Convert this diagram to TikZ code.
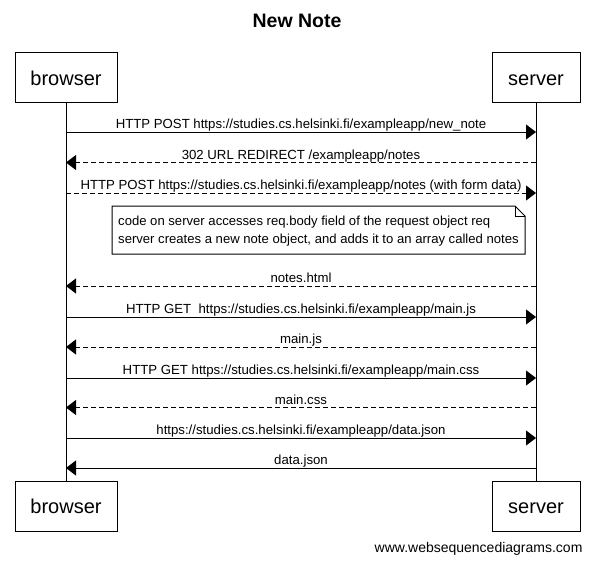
\documentclass[tikz,border=0pt]{standalone}
\usepackage{fontspec}
\setmainfont{Liberation Sans}
\usetikzlibrary{arrows.meta}
\tikzset{
  actor/.style={draw, line width=1pt, minimum height=50pt, inner sep=0pt, text height=15pt, text depth=0pt, font=\fontsize{20}{24}\selectfont},
  msg/.style={line width=1pt, -{Triangle[length=10pt,width=15pt]}},
  reply/.style={msg, dash pattern=on 5pt off 3pt},
  lbl/.style={font=\fontsize{13.2}{15}\selectfont, inner sep=0pt, anchor=base},
  life/.style={line width=1pt}
}
\begin{document}
\begin{tikzpicture}[x=1pt,y=-1pt]
\useasboundingbox (0,0) rectangle (594,565);
\fill[white] (0,0) rectangle (594,565);
\node[font=\bfseries\fontsize{19.5}{22}\selectfont] (title) at (297,21) {New Note};
% actors
\node[actor, minimum width=102pt] (bt) at (66,77.5) {browser};
\node[actor, minimum width=88pt] (st) at (536,77.5) {server};
\node[actor, minimum width=102pt] (bb) at (66,506) {browser};
\node[actor, minimum width=88pt] (sb) at (536,506) {server};
\draw[life] (bt.south) -- (bb.north);
\draw[life] (st.south) -- (sb.north);
% message end points
\foreach \i/\y in {1/132,2/162.5,3/193,4/286,5/317,6/347,7/378,8/407.5,9/438,10/468}{
  \coordinate (b\i) at (66,\y);
  \coordinate (s\i) at (536,\y);
}
\draw[msg] (b1) -- (s1) node[lbl, pos=0.5, yshift=3.5pt] {HTTP POST https://studies.cs.helsinki.fi/exampleapp/new\_note};
\draw[reply] (s2) -- (b2) node[lbl, pos=0.5, yshift=3.5pt] {302 URL REDIRECT /exampleapp/notes};
\draw[reply] (b3) -- (s3) node[lbl, pos=0.5, yshift=3.5pt] {HTTP POST https://studies.cs.helsinki.fi/exampleapp/notes (with form data)};
% note
\coordinate (nw) at (112,206);
\coordinate (fold) at (515,206);
\coordinate (foldb) at (525,216);
\coordinate (se) at (525,254);
\draw[line width=1pt, fill=white] (nw) -- (fold) -- (foldb) -- (se) -- (nw |- se) -- cycle;
\draw[line width=1pt] (fold) -- (fold |- foldb) -- (foldb);
\node[font=\fontsize{13.1}{18}\selectfont, inner sep=0pt, align=left, anchor=west] (note) at (118,231) {code on server accesses req.body field of the request object req\\server creates a new note object, and adds it to an array called notes};
\draw[reply] (s4) -- (b4) node[lbl, pos=0.5, yshift=3.5pt] {notes.html};
\draw[msg] (b5) -- (s5) node[lbl, pos=0.5, yshift=3.5pt] {HTTP GET\ \ https://studies.cs.helsinki.fi/exampleapp/main.js};
\draw[reply] (s6) -- (b6) node[lbl, pos=0.5, yshift=3.5pt] {main.js};
\draw[msg] (b7) -- (s7) node[lbl, pos=0.5, yshift=3.5pt] {HTTP GET https://studies.cs.helsinki.fi/exampleapp/main.css};
\draw[reply] (s8) -- (b8) node[lbl, pos=0.5, yshift=3.5pt] {main.css};
\draw[msg] (b9) -- (s9) node[lbl, pos=0.5, yshift=3.5pt] {https://studies.cs.helsinki.fi/exampleapp/data.json};
\draw[msg] (s10) -- (b10) node[lbl, pos=0.5, yshift=3.5pt] {data.json};
\node[anchor=east, font=\fontsize{14}{16}\selectfont] (footer) at (586,549) {www.websequencediagrams.com};
\end{tikzpicture}
\end{document}
